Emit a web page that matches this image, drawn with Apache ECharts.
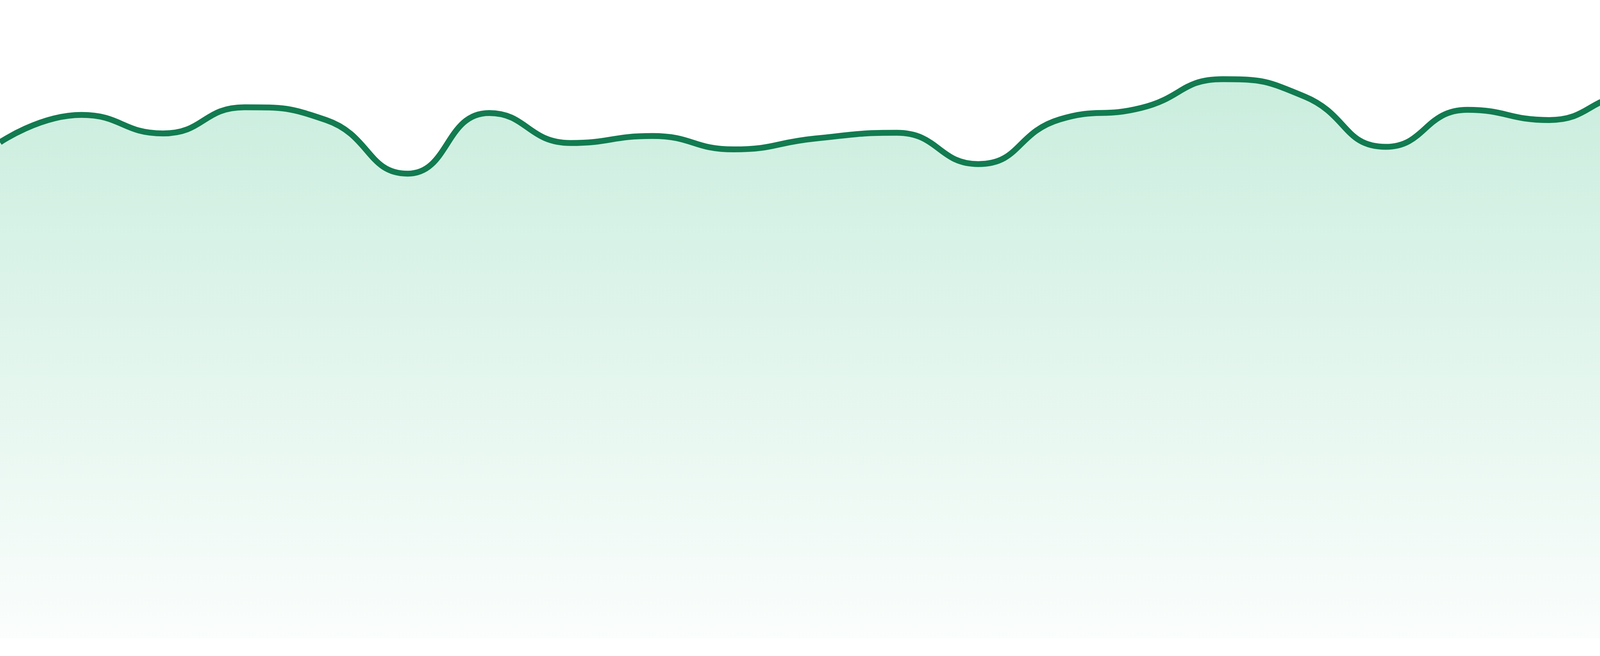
<!DOCTYPE html>
<html>
<head>
<meta charset="utf-8">
<title>area</title>
<script src="https://cdn.jsdelivr.net/npm/echarts@6/dist/echarts.min.js"></script>
<style>
  html, body { margin: 0; padding: 0; background: #fff; }
  #chart { width: 4800px; height: 1680px; }
</style>
</head>
<body>
<div id="chart"></div>
<script>
// data (axes are hidden)
const days = ['1', '2', '3', '4', '5', '6', '7', '8', '9', '10', '11', '12',
  '13', '14', '15', '16', '17', '18', '19', '20', '21', '22', '23', '24']
const values = [77.7, 82.0, 79.1, 83.2, 81.2, 72.8, 82.3, 77.6, 78.7, 76.6, 78.3, 79.2,
  74.3, 81.3, 83.1, 87.6, 84.9, 77.0, 82.8, 81.2, 85.0, 80.6, 82.9, 80.7]

const chart = echarts.init(document.getElementById('chart'))

chart.setOption({
  animation: false,
  grid: { left: 0, right: 0, top: 0, bottom: 45 },
  xAxis: {
    type: 'category',
    data: days,
    boundaryGap: false,
    show: false
  },
  yAxis: {
    type: 'value',
    min: 0,
    max: 100,
    show: false
  },
  series: [{
    type: 'line',
    data: values,
    smooth: true,
    symbol: 'none',
    lineStyle: { color: '#127b50', width: 15 },
    areaStyle: {
      color: new echarts.graphic.LinearGradient(0, 0, 0, 1, [
        { offset: 0, color: '#b2e5cf' },
        { offset: 1, color: '#f8fcfa' }
      ])
    }
  }]
})
</script>
</body>
</html>
